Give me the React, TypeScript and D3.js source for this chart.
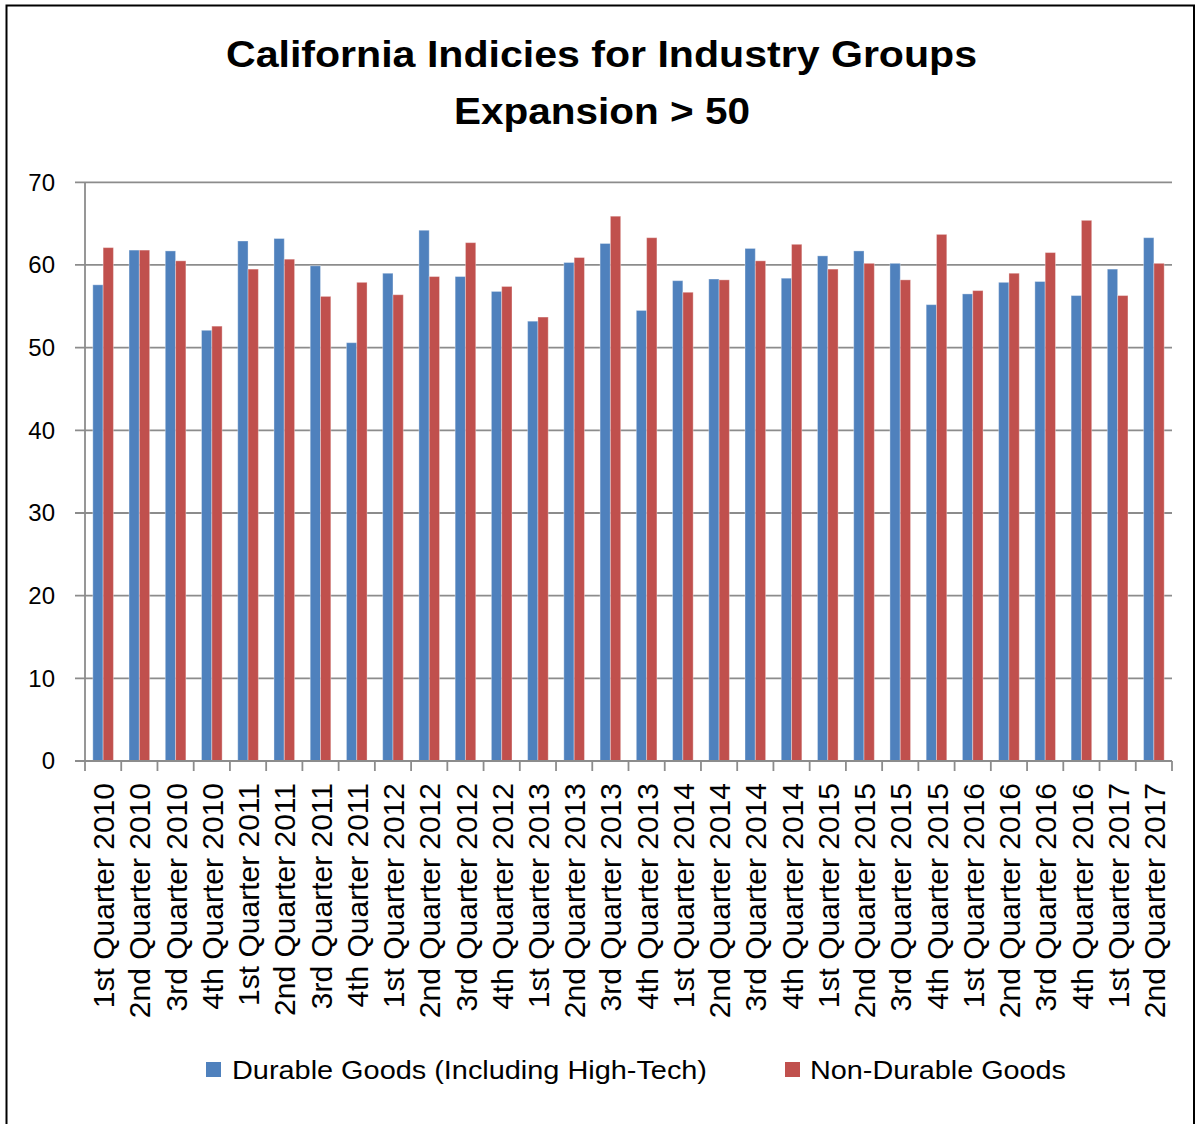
import * as d3 from "d3";

const categories = [
  "1st Quarter 2010", "2nd Quarter 2010", "3rd Quarter 2010", "4th Quarter 2010",
  "1st Quarter 2011", "2nd Quarter 2011", "3rd Quarter 2011", "4th Quarter 2011",
  "1st Quarter 2012", "2nd Quarter 2012", "3rd Quarter 2012", "4th Quarter 2012",
  "1st Quarter 2013", "2nd Quarter 2013", "3rd Quarter 2013", "4th Quarter 2013",
  "1st Quarter 2014", "2nd Quarter 2014", "3rd Quarter 2014", "4th Quarter 2014",
  "1st Quarter 2015", "2nd Quarter 2015", "3rd Quarter 2015", "4th Quarter 2015",
  "1st Quarter 2016", "2nd Quarter 2016", "3rd Quarter 2016", "4th Quarter 2016",
  "1st Quarter 2017", "2nd Quarter 2017",
];

const durable = [
  57.6, 61.8, 61.7, 52.1, 62.9, 63.2, 59.9, 50.6, 59.0, 64.2,
  58.6, 56.8, 53.2, 60.3, 62.6, 54.5, 58.1, 58.3, 62.0, 58.4,
  61.1, 61.7, 60.2, 55.2, 56.5, 57.9, 58.0, 56.3, 59.5, 63.3,
];

const nonDurable = [
  62.1, 61.8, 60.5, 52.6, 59.5, 60.7, 56.2, 57.9, 56.4, 58.6,
  62.7, 57.4, 53.7, 60.9, 65.9, 63.3, 56.7, 58.2, 60.5, 62.5,
  59.5, 60.2, 58.2, 63.7, 56.9, 59.0, 61.5, 65.4, 56.3, 60.2,
];

const seriesNames = ["Durable Goods (Including High-Tech)", "Non-Durable Goods"];
const yTicks = [0, 10, 20, 30, 40, 50, 60, 70];

const colors = ["#4F81BD", "#C0504D"];
const font = "'Liberation Sans', Arial, sans-serif";

export default function App() {
  const width = 1198;
  const height = 1124;
  const left = 85;
  const right = 1172;
  const top = 182.3;
  const bottom = 761;

  const x0 = d3.scaleBand<string>()
    .domain(categories)
    .range([left, right])
    .paddingInner(0.431)
    .paddingOuter(0.2155);

  const x1 = d3.scaleBand<number>()
    .domain([0, 1])
    .range([0, x0.bandwidth()]);

  const y = d3.scaleLinear().domain([0, 70]).range([bottom, top]);

  const step = x0.step();
  const tickXs = categories.map((c) => (x0(c) as number) - (step - x0.bandwidth()) / 2);
  tickXs.push(right);

  const series = [durable, nonDurable];
  const axisColor = "#8c8c8c";

  return (
    <svg width={width} height={height} style={{ position: "absolute", left: 0, top: 0, display: "block", background: "#fff" }}>
      <rect x={6.5} y={5.5} width={1187.5} height={1130} fill="#fff" stroke="#000" strokeWidth={2} />

      <text x={601.5} y={67} textAnchor="middle" fontFamily={font} fontWeight="bold" fontSize={36}
        textLength={751} lengthAdjust="spacingAndGlyphs">
        California Indicies for Industry Groups
      </text>
      <text x={602} y={124} textAnchor="middle" fontFamily={font} fontWeight="bold" fontSize={36}
        textLength={296} lengthAdjust="spacingAndGlyphs">
        {"Expansion > 50"}
      </text>

      {/* gridlines + y labels */}
      {yTicks.map((t) => (
        <g key={t}>
          <line x1={left - 10} x2={right} y1={y(t)} y2={y(t)} stroke={axisColor} strokeWidth={1.8} />
          <text x={55} y={y(t)} dy="0.35em" textAnchor="end" fontFamily={font} fontSize={24} fill="#000">
            {t}
          </text>
        </g>
      ))}

      {/* bars */}
      {categories.map((c, i) => (
        <g key={c} transform={`translate(${x0(c)},0)`}>
          {series.map((s, k) => (
            <rect
              key={k}
              x={x1(k)}
              y={y(s[i])}
              width={x1.bandwidth()}
              height={bottom - y(s[i])}
              fill={colors[k]}
              stroke="#ffffff"
              strokeOpacity={0.35}
              strokeWidth={1}
            />
          ))}
        </g>
      ))}

      {/* axes */}
      <line x1={left} x2={left} y1={top} y2={bottom} stroke={axisColor} strokeWidth={1.8} />
      <line x1={left - 10} x2={right} y1={bottom} y2={bottom} stroke={axisColor} strokeWidth={1.8} />
      {tickXs.map((tx, i) => (
        <line key={i} x1={tx} x2={tx} y1={bottom} y2={bottom + 10} stroke={axisColor} strokeWidth={1.8} />
      ))}

      {/* x labels */}
      {categories.map((c) => {
        const cx = (x0(c) as number) + x0.bandwidth() / 2;
        return (
          <text key={c} transform={`translate(${cx},783) rotate(-90)`} dy="0.37em" textAnchor="end"
            fontFamily={font} fontSize={30} fill="#000">
            {c}
          </text>
        );
      })}

      {/* legend */}
      <rect x={206} y={1062} width={15} height={15} fill={colors[0]} />
      <text x={232} y={1079} fontFamily={font} fontSize={25} textLength={475} lengthAdjust="spacingAndGlyphs">
        {seriesNames[0]}
      </text>
      <rect x={785} y={1062} width={15} height={15} fill={colors[1]} />
      <text x={810} y={1079} fontFamily={font} fontSize={25} textLength={256} lengthAdjust="spacingAndGlyphs">
        {seriesNames[1]}
      </text>
    </svg>
  );
}
